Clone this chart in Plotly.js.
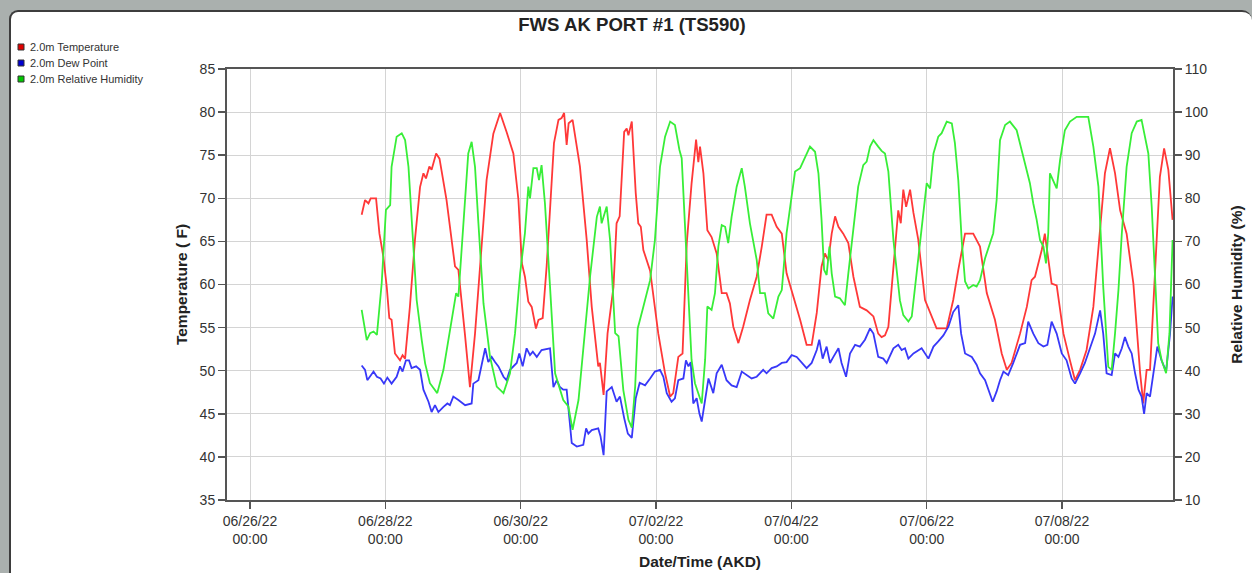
<!DOCTYPE html>
<html>
<head>
<meta charset="utf-8">
<script src="https://cdn.plot.ly/plotly-3.0.1.min.js"></script>
<style>
  html, body { margin: 0; padding: 0; width: 1252px; height: 573px; overflow: hidden; background: #aab0ae; }
  #panel { position: absolute; left: 9px; top: 10px; width: 1243px; height: 563px; box-sizing: border-box;
           background: #ffffff; border-top: 2px solid #3d3d3d; border-left: 2px solid #3d3d3d;
           border-top-left-radius: 9px; border-top-right-radius: 10px; }
  #chart { position: absolute; left: 0; top: 0; width: 1252px; height: 573px; }
</style>
</head>
<body>
<div id="panel"></div>
<div id="chart"></div>
<script>
// ---- data (hours after 2022-06-26 00:00 AKD) ----
const chartTitle = 'FWS AK PORT #1 (TS590)';
const seriesNames = ['2.0m Temperature', '2.0m Dew Point', '2.0m Relative Humidity'];

const tempHours = [39.6,40.8,42.0,42.8,44.7,45.9,47.3,48.5,49.4,50.2,51.4,53.2,54.1,55.0,56.7,58.5,60.3,61.5,62.4,63.6,64.4,66.0,67.2,69.7,72.7,73.9,76.2,78.0,79.8,82.2,83.9,86.3,88.7,91.0,93.4,95.2,96.4,97.5,98.7,99.9,101.4,102.3,103.8,105.2,106.4,107.8,109.4,110.5,111.4,112.3,113.0,114.4,117.0,119.4,121.2,123.5,124.1,125.4,126.8,128.9,130.0,131.1,132.7,133.6,134.2,135.4,136.8,137.7,138.6,139.5,141.9,144.8,147.2,149.0,150.1,151.9,153.4,154.9,156.6,158.2,159.0,159.6,160.8,162.2,163.7,165.5,167.3,169.0,170.2,171.4,173.2,174.9,177.3,179.7,181.5,183.2,185.0,186.8,188.6,190.3,192.7,195.1,197.4,199.2,201.0,202.7,203.9,205.1,206.3,207.5,208.7,210.4,212.2,214.0,216.3,218.7,221.1,222.8,224.0,225.2,226.4,228.2,229.9,230.8,231.7,232.7,234.1,235.3,237.0,239.4,241.2,243.5,247.1,249.4,251.2,253.6,256.5,258.9,261.3,264.2,266.6,268.4,270.1,273.1,275.5,277.2,278.4,280.8,281.9,283.1,284.3,286.1,288.5,290.8,292.6,294.4,296.7,299.1,301.5,303.2,305.0,306.8,308.6,310.9,313.3,314.5,315.7,316.8,318.0,319.2,320.4,321.6,322.7,324.2,325.7,327.2];
const tempValues = [68.1,69.8,69.4,70.0,70.0,65.9,63.2,59.7,56.1,55.9,52.0,51.2,51.8,51.4,57.4,65.2,71.3,72.9,72.3,73.7,73.3,75.2,74.6,69.8,62.1,61.7,54.3,48.1,54.3,65.2,72.1,77.5,79.9,77.7,75.2,69.8,62.5,60.9,58.0,57.4,54.9,55.9,56.1,62.1,69.0,76.4,79.1,79.3,79.9,76.2,78.7,79.1,73.7,65.2,57.4,50.5,50.9,47.2,54.3,59.7,67.1,67.9,77.7,78.1,77.3,78.9,70.6,67.1,66.7,64.0,61.6,54.3,49.7,47.0,47.4,51.6,52.0,64.8,71.7,76.8,74.2,76.0,72.9,66.3,65.5,63.6,59.0,59.0,57.8,55.1,53.2,55.1,58.2,60.9,64.4,68.1,68.1,66.7,65.9,61.3,58.6,55.9,53.0,53.0,56.7,62.1,63.6,62.8,65.9,67.9,66.7,65.9,64.8,60.9,57.4,57.0,56.3,54.3,53.9,54.1,55.1,62.1,68.6,67.1,71.0,69.0,71.0,68.3,65.2,58.2,56.7,54.9,54.9,58.2,61.7,65.9,65.9,64.4,59.0,55.9,52.0,50.1,50.9,54.3,57.4,60.5,60.9,64.0,65.9,63.2,60.1,59.9,54.3,51.2,48.9,50.1,52.4,57.4,66.7,72.9,75.8,72.9,68.6,65.9,60.1,54.3,49.7,46.2,50.1,50.1,57.4,65.9,72.5,75.8,73.3,67.5];

const dewHours = [39.6,40.8,41.6,42.8,43.8,45.0,46.3,47.5,48.7,50.2,52.0,53.2,54.1,55.3,56.4,57.3,58.9,60.3,61.5,63.3,64.4,65.6,66.8,68.6,70.0,70.9,72.1,73.9,76.3,78.6,79.2,81.0,82.2,83.4,84.5,85.7,86.9,88.1,89.9,91.0,92.2,93.4,94.6,95.5,96.7,98.1,99.3,100.3,101.7,103.4,106.4,107.6,108.8,109.9,111.1,112.3,114.1,115.9,118.2,119.2,120.0,121.2,123.5,124.3,125.4,126.5,128.3,130.0,131.2,132.7,134.0,135.4,136.8,138.2,140.1,141.9,143.6,145.4,146.6,147.8,149.5,150.7,151.9,153.7,154.6,155.5,156.3,157.2,158.4,159.4,160.2,161.4,162.6,164.3,165.5,167.3,169.0,170.8,172.6,174.4,176.1,177.9,179.7,180.9,182.0,183.2,185.0,186.8,188.6,190.3,192.1,193.9,195.6,197.4,199.2,201.0,201.9,203.1,204.5,205.7,206.9,208.7,209.8,211.4,212.8,214.6,216.3,218.1,219.9,221.1,222.8,224.6,225.8,227.0,228.2,229.9,231.1,232.3,233.5,235.3,238.2,240.6,242.4,244.1,245.9,247.7,249.4,251.2,252.2,253.6,256.0,257.7,258.9,260.7,261.9,263.4,264.8,266.0,267.2,268.9,270.7,273.1,274.9,276.0,277.8,279.6,281.4,282.8,284.3,286.1,287.9,289.6,291.4,292.6,294.4,296.1,297.9,299.7,301.5,302.6,303.8,305.6,306.8,308.0,309.2,310.3,311.5,312.7,313.9,315.1,316.2,317.1,318.0,319.2,320.4,321.8,323.3,324.9,326.3,327.2];
const dewValues = [50.6,50.1,48.9,49.5,49.9,49.3,49.1,48.5,49.2,48.5,49.3,50.5,49.9,51.2,51.2,50.3,50.5,50.1,47.8,46.4,45.2,46.0,45.2,45.8,46.2,46.0,47.0,46.6,46.0,46.2,48.5,48.9,50.9,52.6,51.0,51.6,51.0,50.5,49.3,48.9,50.1,50.5,50.9,52.0,50.5,52.6,51.8,52.2,51.6,52.4,52.6,48.1,48.9,48.1,47.8,47.8,41.6,41.2,41.4,43.3,42.7,43.1,43.3,42.4,40.2,47.6,48.1,46.4,47.0,44.5,42.7,42.2,46.8,48.6,48.3,49.1,49.9,50.1,49.3,47.4,46.4,46.8,48.9,49.1,51.2,50.5,51.0,46.2,46.8,45.0,44.1,46.6,49.1,47.4,49.7,50.7,48.9,48.3,48.1,49.9,49.5,49.1,49.3,49.7,50.1,49.7,50.3,50.5,50.9,51.0,51.8,51.6,50.9,50.3,50.9,52.4,53.6,51.4,52.8,50.9,51.6,52.6,50.9,49.3,52.0,53.0,52.8,53.6,54.9,54.3,51.6,51.4,50.9,51.8,52.6,53.0,52.4,52.6,51.4,52.0,52.6,51.4,52.8,53.4,54.1,55.1,56.8,57.6,54.3,52.0,51.6,50.7,49.7,48.9,47.8,46.4,47.6,48.9,49.9,49.5,50.9,53.0,53.2,55.7,54.3,53.2,52.8,53.0,55.7,54.3,52.0,51.2,49.1,48.5,49.7,50.9,52.6,54.3,57.0,54.3,49.7,49.5,52.0,51.6,52.6,53.9,52.8,52.0,49.7,47.8,47.0,45.0,47.4,47.0,49.7,52.8,51.2,49.9,54.3,58.6];

const rhHours = [39.6,41.4,42.6,43.8,45.0,46.7,48.2,49.7,50.2,52.0,53.8,55.0,56.2,57.3,59.1,60.9,62.1,63.8,66.4,68.6,71.0,73.1,73.9,75.7,77.4,78.6,79.8,81.0,82.8,85.1,87.5,89.9,92.2,94.0,95.8,97.5,98.7,99.3,100.5,101.7,102.5,103.4,104.6,106.4,108.2,110.0,111.1,112.9,114.4,116.5,118.2,120.6,123.0,124.1,124.7,126.5,127.7,129.5,130.7,132.4,134.2,135.4,136.6,137.5,139.2,141.9,143.6,145.4,147.2,149.0,150.7,152.3,153.1,154.3,155.5,156.6,157.8,159.0,160.2,161.4,162.2,163.7,164.9,166.1,167.3,168.5,169.6,170.8,172.6,174.4,175.5,177.3,179.7,180.9,182.6,183.8,185.6,187.4,188.6,190.3,192.1,193.3,195.1,196.8,198.6,200.4,201.6,202.7,203.6,204.5,205.5,206.3,207.5,209.2,211.0,212.2,214.0,215.7,217.5,218.7,219.9,221.1,222.8,224.0,225.2,226.4,228.2,229.9,230.5,231.7,233.5,234.7,236.4,238.2,240.0,241.2,242.4,244.1,245.3,247.1,248.9,250.0,251.2,252.4,253.6,254.8,256.5,257.7,258.9,260.7,262.5,263.6,264.8,266.0,267.8,269.5,271.9,273.7,274.9,276.6,277.8,279.0,280.2,281.4,282.3,283.1,283.7,284.9,286.1,287.3,289.0,290.8,293.2,297.3,299.1,300.9,302.6,304.4,305.6,306.8,308.0,309.2,310.9,312.7,314.5,316.2,317.4,318.6,319.8,321.0,322.1,323.3,324.9,326.1,327.2];
const rhValues = [54.1,47.1,48.7,49.1,48.3,60.3,77.3,78.4,87.3,94.3,95.1,93.5,87.3,75.7,56.4,47.1,41.7,37.1,34.8,40.2,50.2,58.0,57.2,74.2,90.4,93.1,87.3,74.2,55.6,43.3,36.3,34.8,39.4,48.7,62.6,71.9,82.7,80.0,87.0,87.0,84.2,87.7,78.8,59.5,39.4,35.5,33.2,31.7,26.3,33.2,44.8,61.8,75.7,78.1,74.2,78.1,70.3,48.7,48.0,35.5,28.6,26.8,36.3,49.8,54.1,61.0,70.3,87.3,94.3,97.8,97.0,91.2,89.3,73.4,59.5,42.5,37.1,34.8,32.4,42.5,54.9,54.1,58.0,68.8,73.8,73.4,69.6,75.7,82.7,87.0,82.7,74.2,65.7,58.0,58.0,53.3,52.1,57.2,58.7,71.9,81.1,86.2,87.0,89.3,92.0,90.8,85.8,75.0,63.4,62.2,68.8,62.6,57.2,56.8,55.2,62.6,73.4,82.7,87.7,88.5,92.0,93.5,92.0,91.0,90.4,86.2,70.3,58.7,56.3,52.9,51.4,52.6,62.6,71.9,83.5,82.3,90.4,94.3,95.1,97.8,97.4,92.8,84.2,70.3,60.7,59.1,59.9,59.5,61.0,66.1,69.6,71.9,79.6,93.5,97.0,97.8,95.8,91.2,88.1,83.5,78.8,75.0,70.3,68.8,64.9,71.9,85.8,84.2,82.3,88.9,95.8,97.8,98.9,98.9,92.0,82.7,59.5,40.9,40.2,48.7,58.7,71.9,87.3,95.1,97.8,98.2,94.3,90.4,78.1,59.5,46.4,42.5,39.4,48.7,70.3];

const tickDates = ['2022-06-26','2022-06-28','2022-06-30','2022-07-02','2022-07-04','2022-07-06','2022-07-08'];
const tickLabels = ['06/26/22<br>00:00','06/28/22<br>00:00','06/30/22<br>00:00','07/02/22<br>00:00','07/04/22<br>00:00','07/06/22<br>00:00','07/08/22<br>00:00'];
const xRange = ['2022-06-25 15:50', '2022-07-09 15:21'];

// ---- helpers ----
function toDate(h) {
  const d = new Date(Date.UTC(2022, 5, 26) + Math.round(h * 3600000));
  return d.toISOString().replace('T', ' ').slice(0, 19);
}
const colors = ['#ff3838', '#3838f8', '#38ee38'];
const legendColors = ['#e00000', '#0000d0', '#00c800'];
const FONT = 'Liberation Sans, Arial, sans-serif';

const traces = [
  { x: tempHours.map(toDate), y: tempValues, name: seriesNames[0], type: 'scatter', mode: 'lines',
    line: { color: colors[0], width: 1.8 }, yaxis: 'y' },
  { x: dewHours.map(toDate), y: dewValues, name: seriesNames[1], type: 'scatter', mode: 'lines',
    line: { color: colors[1], width: 1.8 }, yaxis: 'y' },
  { x: rhHours.map(toDate), y: rhValues, name: seriesNames[2], type: 'scatter', mode: 'lines',
    line: { color: colors[2], width: 1.8 }, yaxis: 'y2' }
];

// plot area in window pixels: left 227, right 1173, top 69, bottom 500
const PL = 227, PR = 1173, PT = 69, PB = 500;
const px = X => (X - PL) / (PR - PL);
const py = Y => (PB - Y) / (PB - PT);
const legendRows = [47, 63, 79];
const annotations = seriesNames.map((n, i) => ({
  text: n, xref: 'paper', yref: 'paper', x: px(28), y: py(legendRows[i]),
  xanchor: 'left', yanchor: 'middle', showarrow: false,
  font: { family: FONT, size: 11, color: '#333' }
}));
const shapes = seriesNames.map((n, i) => ({
  type: 'rect', xref: 'paper', yref: 'paper',
  x0: px(18), x1: px(24), y0: py(legendRows[i] + 3), y1: py(legendRows[i] - 3),
  fillcolor: legendColors[i], line: { color: '#333', width: 1 }
}));

const layout = {
  width: 1252, height: 573,
  margin: { l: PL, r: 1252 - PR, t: PT, b: 573 - PB, pad: 0 },
  paper_bgcolor: 'rgba(0,0,0,0)', plot_bgcolor: '#ffffff',
  showlegend: false,
  title: { text: chartTitle, x: 632 / 1252, xanchor: 'center', xref: 'container',
           y: 1 - 24 / 573, yanchor: 'middle', yref: 'container',
           font: { family: FONT, size: 18.6, weight: 'bold', color: '#222' } },
  font: { family: FONT, color: '#333' },
  xaxis: {
    type: 'date', range: xRange, tickmode: 'array', tickvals: tickDates, ticktext: tickLabels,
    ticks: 'outside', ticklen: 7, tickwidth: 1.5, tickcolor: '#555',
    showline: true, linecolor: '#555', linewidth: 2, mirror: true,
    showgrid: true, gridcolor: '#d4d4d4', gridwidth: 1, zeroline: false,
    tickfont: { family: FONT, size: 14, color: '#333' },
    title: { text: 'Date/Time (AKD)', standoff: 10, font: { family: FONT, size: 15.5, weight: 'bold', color: '#222' } }
  },
  yaxis: {
    range: [35, 85], dtick: 5, tick0: 35,
    ticks: 'outside', ticklen: 7, tickwidth: 1.5, tickcolor: '#555',
    showline: true, linecolor: '#555', linewidth: 2,
    showgrid: true, gridcolor: '#d4d4d4', gridwidth: 1, zeroline: false,
    tickfont: { family: FONT, size: 14, color: '#333' },
    title: { text: 'Temperature ( F)', standoff: 8, font: { family: FONT, size: 15.5, weight: 'bold', color: '#222' } }
  },
  yaxis2: {
    range: [10, 110], dtick: 10, tick0: 10, overlaying: 'y', side: 'right',
    ticks: 'outside', ticklen: 7, tickwidth: 1.5, tickcolor: '#555',
    showline: true, linecolor: '#555', linewidth: 2,
    showgrid: false, zeroline: false,
    tickfont: { family: FONT, size: 14, color: '#333' },
    title: { text: 'Relative Humidity (%)', standoff: 24, font: { family: FONT, size: 15.5, weight: 'bold', color: '#222' } }
  },
  annotations: annotations,
  shapes: shapes
};

Plotly.newPlot('chart', traces, layout, { staticPlot: true, displayModeBar: false });
</script>
</body>
</html>
